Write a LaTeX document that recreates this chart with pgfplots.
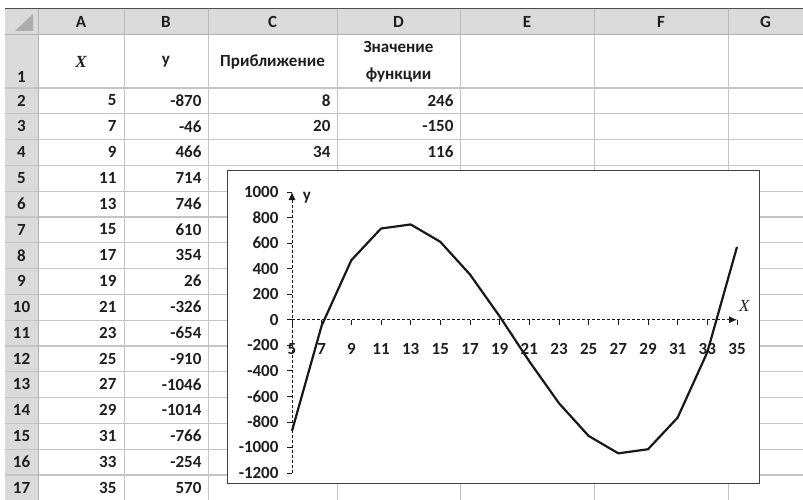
\documentclass[border=0pt]{standalone}
\usepackage{pgfplots}
\pgfplotsset{compat=1.18}
\usetikzlibrary{arrows.meta}
\usepackage{fontspec}
\setmainfont{Carlito}
\newfontfamily\seriffont{Liberation Serif}
\definecolor{hdr}{HTML}{DADADA}
\definecolor{gridc}{HTML}{C4C4C4}
\definecolor{txt}{HTML}{1E1E1E}
\newcommand{\cf}{\fontsize{17pt}{20pt}\selectfont\bfseries}
\begin{document}
\begin{tikzpicture}[font=\cf, text=txt]
\begin{scope}[x=1pt,y=-1pt]
\path[use as bounding box] (0,0) rectangle (803,500);
\fill[white] (0,0) rectangle (803,500);
% header row and row-number column
\fill[hdr] (5,9) rectangle (803,35);
\fill[hdr] (5,35) rectangle (38,500);
\fill[gray!65] (33,14) -- (33,31) -- (15,31) -- cycle;
% horizontal grid lines
\foreach \i in {0,...,16} {
  \draw[gridc, line width=1.1pt] (5,{88+\i*25.8}) -- (803,{88+\i*25.8});
}
% vertical grid lines
\foreach \xx in {124,208,337,460,594,728} {
  \draw[gridc, line width=0.9pt] (\xx,35) -- (\xx,500);
  \draw[gray!55, line width=0.9pt] (\xx,9) -- (\xx,35);
}
\draw[gray!60!black, line width=1pt] (5,9) -- (803,9);
\draw[gray!60, line width=1pt] (5,35) -- (803,35);
\draw[gray!60, line width=1pt] (38,9) -- (38,500);
% column letters
\foreach \c/\xx in {A/81,B/166,C/272.5,D/398.5,E/527,F/661,G/765.5} {
  \node at (\xx,22) {\c};
}
% row numbers
\node at (21.5,77) {1};
\foreach \r in {2,...,17} {
  \node at (21.5,{100.5+(\r-2)*25.8}) {\r};
}
% row 1 headings
\node at (81,62) {\seriffont\bfseries\itshape X};
\node at (166,62) {y};
\node at (272.5,62) {Приближение};
\node at (398.5,47) {Значение};
\node at (398.5,75) {функции};
% columns A and B
\foreach \r/\a/\b in {2/5/-870,3/7/-46,4/9/466,5/11/714,6/13/746,7/15/610,8/17/354,9/19/26,10/21/-326,11/23/-654,12/25/-910,13/27/-1046,14/29/-1014,15/31/-766,16/33/-254,17/35/570} {
  \node[anchor=east] at (120,{100.5+(\r-2)*25.8}) {\a};
  \node[anchor=east] at (205,{100.5+(\r-2)*25.8}) {\b};
}
% columns C and D
\foreach \r/\c/\d in {2/8/246,3/20/-150,4/34/116} {
  \node[anchor=east] at (334,{100.5+(\r-2)*25.8}) {\c};
  \node[anchor=east] at (457,{100.5+(\r-2)*25.8}) {\d};
}
% chart area
\draw[gray!50!black, fill=white, line width=1pt] (227,170) rectangle (759,483);
\end{scope}
\begin{axis}[
  at={(292pt,-473pt)}, anchor=south west,
  scale only axis, width=445pt, height=281pt,
  xmin=5, xmax=35, ymin=-1200, ymax=1000,
  axis x line=middle, axis y line=left,
  hide obscured x ticks=false, hide obscured y ticks=false,
  axis line style={densely dashed, gray!20!black, line width=0.8pt},
  x axis line style={-{Latex[length=8pt,width=7pt]}},
  y axis line style={-{Latex[length=8pt,width=7pt]}},
  xtick={5,7,...,35},
  xticklabels={5,7,9,11,13,15,17,19,21,23,25,27,29,31,33,35},
  ytick={-1200,-1000,...,1000},
  yticklabels={-1200,-1000,-800,-600,-400,-200,0,200,400,600,800,1000},
  tick align=outside, major tick length=5pt,
  tick style={gray!20!black, solid, line width=0.7pt},
  tick label style={font=\cf, text=txt},
  xticklabel style={yshift=-15pt},
  yticklabel style={xshift=-5pt},
  clip=false,
]
\addplot[black!90, line width=2.2pt, line join=round] coordinates {
 (5,-870) (7,-46) (9,466) (11,714) (13,746) (15,610) (17,354) (19,26)
 (21,-326) (23,-654) (25,-910) (27,-1046) (29,-1014) (31,-766) (33,-254) (35,570)
};
\node[font=\fontsize{17pt}{20pt}\seriffont\itshape, text=txt] at (axis cs:35.5,105) {X};
\node[font=\cf, text=txt] at (axis cs:6.0,955) {y};
\end{axis}
\end{tikzpicture}
\end{document}
